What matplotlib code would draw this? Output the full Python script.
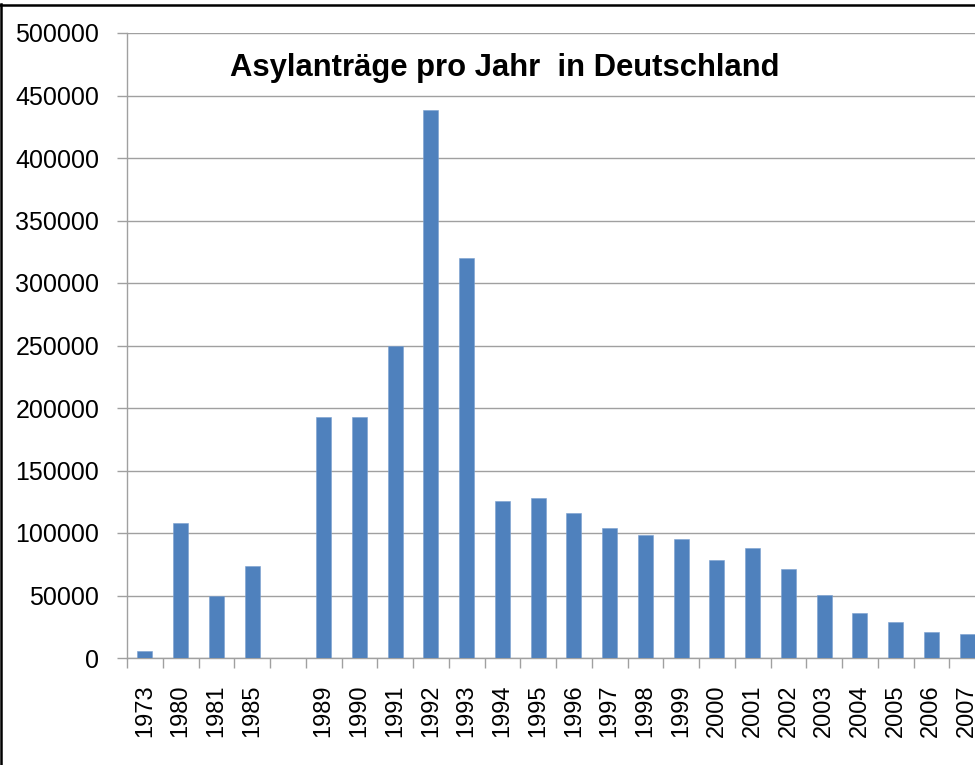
import numpy as np
import matplotlib
matplotlib.use('Agg')
import matplotlib.pyplot as plt
from matplotlib.lines import Line2D
from matplotlib.ticker import FixedLocator

plt.rcParams['font.family'] = ['Liberation Sans', 'DejaVu Sans']

title = "Asylanträge pro Jahr  in Deutschland"
categories = ['1973', '1980', '1981', '1985', '', '1989', '1990', '1991', '1992',
              '1993', '1994', '1995', '1996', '1997', '1998', '1999', '2000',
              '2001', '2002', '2003', '2004', '2005', '2006', '2007']
values = [5595, 107818, 49391, 73832, None, 193000, 193063, 250000, 438191,
          320000, 125500, 127937, 116367, 104353, 98644, 95113, 78564,
          88287, 71127, 50563, 35607, 28914, 21029, 19164]
y_ticks = [0, 50000, 100000, 150000, 200000, 250000, 300000, 350000, 400000, 450000, 500000]

W, H = 975, 765
fig = plt.figure(figsize=(W / 100, H / 100), dpi=100)
fig.patch.set_facecolor('white')

slot = 35.75
n = len(categories)
ax = fig.add_axes([127 / W, (H - 658) / H, n * slot / W, 625 / H])

pos = [i for i, v in enumerate(values) if v is not None]
hts = [v for v in values if v is not None]
ax.bar(pos, hts, width=0.42, color='#4F81BD', edgecolor='#7a9fcf', linewidth=0.4, zorder=3)

ax.set_xlim(-0.5, n - 0.5)
ax.set_ylim(0, 500000)

grey = '#a0a0a0'
ax.set_yticks(y_ticks)
ax.set_yticklabels([str(t) for t in y_ticks])
ax.yaxis.grid(True, color=grey, linewidth=1.0, zorder=0)
ax.set_axisbelow(True)

ax.set_xticks(np.arange(n))
ax.set_xticklabels(categories, rotation=90)
ax.xaxis.set_minor_locator(FixedLocator(np.arange(n + 1) - 0.5))
ax.tick_params(axis='x', which='major', length=0, pad=19, labelsize=17, labelcolor='black')
ax.tick_params(axis='x', which='minor', length=7, width=1, color=grey, direction='out')
ax.tick_params(axis='y', which='major', length=7, width=1, color=grey, pad=13,
               labelsize=18, labelcolor='black')

for s in ['top', 'right']:
    ax.spines[s].set_visible(False)
for s in ['left', 'bottom']:
    ax.spines[s].set_color(grey)
    ax.spines[s].set_linewidth(1.0)

fig.text(505 / W, 1 - 76 / H, title, ha='center', va='baseline',
         fontsize=22.3, fontweight='bold', color='black')

fig.add_artist(Line2D([1.2 / W, 1.2 / W], [0, 1 - 4 / H], transform=fig.transFigure,
                      color='black', linewidth=1.8))
fig.add_artist(Line2D([0, 1], [1 - 5 / H, 1 - 5 / H], transform=fig.transFigure,
                      color='black', linewidth=1.8))

fig.savefig('out.png', dpi=100, facecolor='white')
